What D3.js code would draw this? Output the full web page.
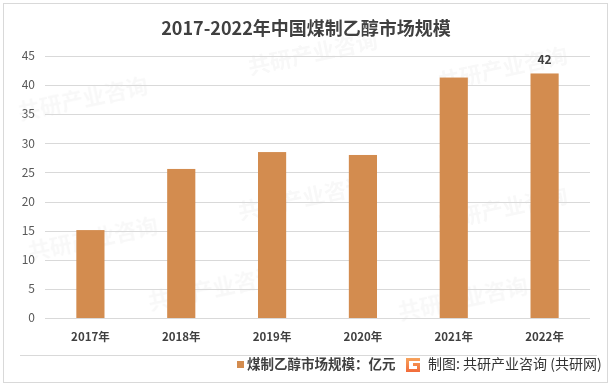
<!DOCTYPE html>
<html>
<head>
<meta charset="utf-8">
<script src="https://cdn.jsdelivr.net/npm/d3@7"></script>
<style>
  body { margin: 0; background: #fff; }
  svg { display: block; font-family: "Noto Sans CJK SC", "Liberation Sans", sans-serif; }
</style>
</head>
<body>
<svg id="svg" width="613" height="389"></svg>
<script>
var years = ["2017年", "2018年", "2019年", "2020年", "2021年", "2022年"];
var values = [15.1, 25.6, 28.5, 28.0, 41.3, 42];
var yTicks = [0, 5, 10, 15, 20, 25, 30, 35, 40, 45];
var seriesName = "煤制乙醇市场规模：亿元";
var title = "2017-2022年中国煤制乙醇市场规模";
var source = "制图: 共研产业咨询 (共研网)";

var svg = d3.select("#svg");
var barColor = "#d38c4f";

// outer frame
svg.append("rect").attr("x", 3.5).attr("y", 3.5).attr("width", 604).attr("height", 379)
  .attr("fill", "#fff").attr("stroke", "#d9d9d9");

// faint watermarks, kept inside the frame
var wm = svg.append("g").attr("fill", "#000").attr("opacity", 0.03)
  .attr("font-weight", "bold").attr("font-size", 22);
[[20, 120], [250, 75], [440, 90], [30, 260], [240, 220], [440, 230], [150, 310], [400, 320]].forEach(function(p) {
  wm.append("text").attr("transform", "translate(" + p[0] + "," + p[1] + ") rotate(-12)").text("共研产业咨询");
});

var x = d3.scaleBand().domain(years).range([45, 590]).paddingInner(0.69).paddingOuter(0.345);
var y = d3.scaleLinear().domain([0, 45]).range([318, 56]);

svg.append("text").attr("x", 306).attr("y", 35).attr("text-anchor", "middle")
  .attr("font-size", 18).attr("font-weight", "bold").attr("fill", "#404040").text(title);

var grid = svg.append("g");
grid.selectAll("line").data(yTicks).enter().append("line")
  .attr("x1", 45).attr("x2", 590)
  .attr("y1", function(d) { return Math.round(y(d)) + 0.5; })
  .attr("y2", function(d) { return Math.round(y(d)) + 0.5; })
  .attr("stroke", "#d9d9d9");

svg.selectAll(".ytick").data(yTicks).enter().append("text")
  .attr("x", 35).attr("y", function(d) { return y(d); }).attr("dy", "0.35em")
  .attr("text-anchor", "end").attr("font-size", 12).attr("fill", "#595959").text(function(d) { return d; });

svg.selectAll(".bar").data(values).enter().append("rect")
  .attr("x", function(d, i) { return x(years[i]); })
  .attr("y", function(d) { return y(d); })
  .attr("width", x.bandwidth())
  .attr("height", function(d) { return y(0) - y(d); })
  .attr("fill", barColor);

// data label on last bar only
svg.append("text").attr("x", x(years[5]) + x.bandwidth() / 2).attr("y", y(values[5]) - 9)
  .attr("text-anchor", "middle").attr("font-size", 12).attr("font-weight", "bold").attr("fill", "#404040").text("42");

svg.selectAll(".xtick").data(years).enter().append("text")
  .attr("x", function(d) { return x(d) + x.bandwidth() / 2; }).attr("y", 337).attr("dy", "0.35em")
  .attr("text-anchor", "middle").attr("font-size", 11.5).attr("font-weight", "bold").attr("fill", "#404040").text(function(d) { return d; });

svg.append("line").attr("x1", 20).attr("x2", 597).attr("y1", 355.5).attr("y2", 355.5).attr("stroke", "#d9d9d9");

svg.append("rect").attr("x", 237).attr("y", 361).attr("width", 7).attr("height", 7).attr("fill", barColor);
svg.append("text").attr("x", 247).attr("y", 364).attr("dy", "0.35em").attr("font-size", 13.5)
  .attr("font-weight", "bold").attr("fill", "#404040").text(seriesName);

// logo
var grad = svg.append("defs").append("linearGradient").attr("id", "lg").attr("x1", 0).attr("y1", 0).attr("x2", 0).attr("y2", 1);
grad.append("stop").attr("offset", 0).attr("stop-color", "#f7a35c");
grad.append("stop").attr("offset", 1).attr("stop-color", "#f26b3a");
svg.append("path").attr("d", "M406,358 h14 v3 h-11 v8 h8 v-3 h-4 v-3 h7 v9 h-14 z").attr("fill", "url(#lg)");

svg.append("text").attr("x", 428).attr("y", 364).attr("dy", "0.35em").attr("font-size", 14)
  .attr("fill", "#333").text(source);
</script>
</body>
</html>
